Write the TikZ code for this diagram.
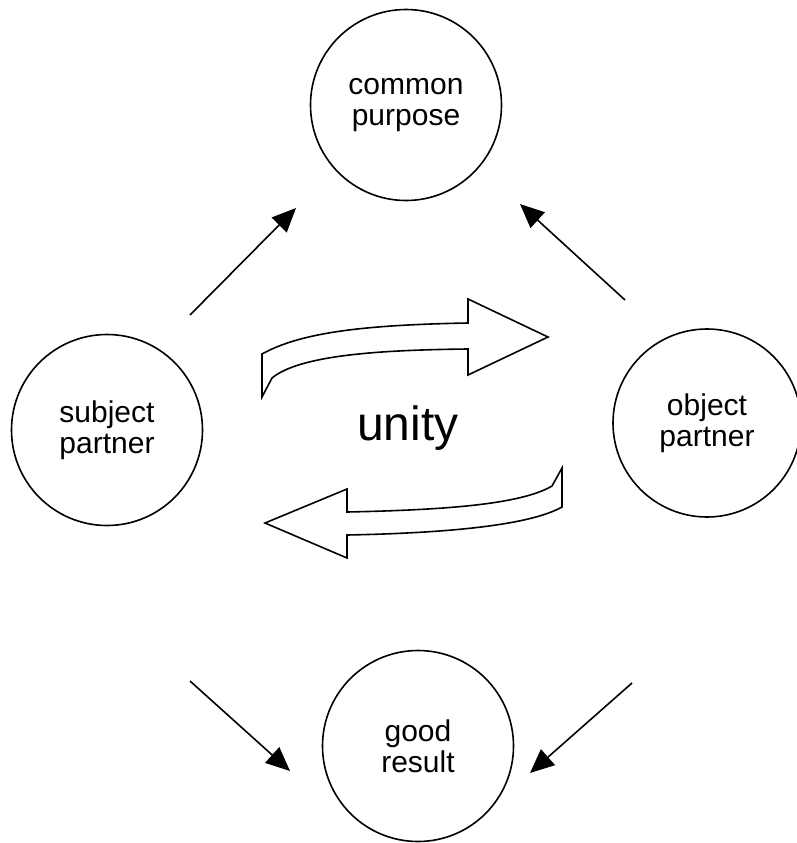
\documentclass[tikz,border=0pt]{standalone}
\usepackage{fontspec}
\setmainfont{Liberation Sans}
\usetikzlibrary{arrows.meta}
\begin{document}
\begin{tikzpicture}[x=1pt,y=-1pt,
  ball/.style={circle,draw,line width=1.6pt,minimum size=191pt,inner sep=0pt,align=center,font=\fontsize{30}{31}\selectfont},
  link/.style={line width=1.6pt,-{Triangle[length=24pt,width=21pt]}},
  ribbon/.style={draw,line width=1.6pt,fill=white,line join=miter}]
\useasboundingbox (0,0) rectangle (797,843);

\node[ball] (cp) at (406,105) {common\\purpose};
\node[ball] (sp) at (107,430) {subject\\partner};
\node[ball,minimum size=188pt] (op) at (707,423) {object\\partner};
\node[ball] (gr) at (418,746) {good\\result};
\node[font=\fontsize{48}{56}\selectfont] (un) at (408,428) {unity};

% short straight connectors
\coordinate (a1) at (190,315); \coordinate (b1) at (296,208);
\coordinate (a2) at (625,300); \coordinate (b2) at (520,204);
\coordinate (a3) at (190,681); \coordinate (b3) at (290,771);
\coordinate (a4) at (632,683); \coordinate (b4) at (530,773);
\draw[link] (a1) -- (b1);
\draw[link] (a2) -- (b2);
\draw[link] (a3) -- (b3);
\draw[link] (a4) -- (b4);

% upper ribbon arrow pointing right
\path[ribbon] (262,397) -- (262,354)
  .. controls (300,333) and (360,325) .. (468,323)
  -- (468,299) -- (548,337) -- (468,375) -- (468,349)
  .. controls (380,350) and (300,355) .. (272,378) -- cycle;

% lower ribbon arrow pointing left
\path[ribbon] (265,523) -- (347,489) -- (347,512)
  .. controls (440,510) and (520,505) .. (552,486)
  -- (562,468) -- (562,507)
  .. controls (530,525) and (450,533) .. (347,535)
  -- (347,558) -- cycle;
\end{tikzpicture}
\end{document}
